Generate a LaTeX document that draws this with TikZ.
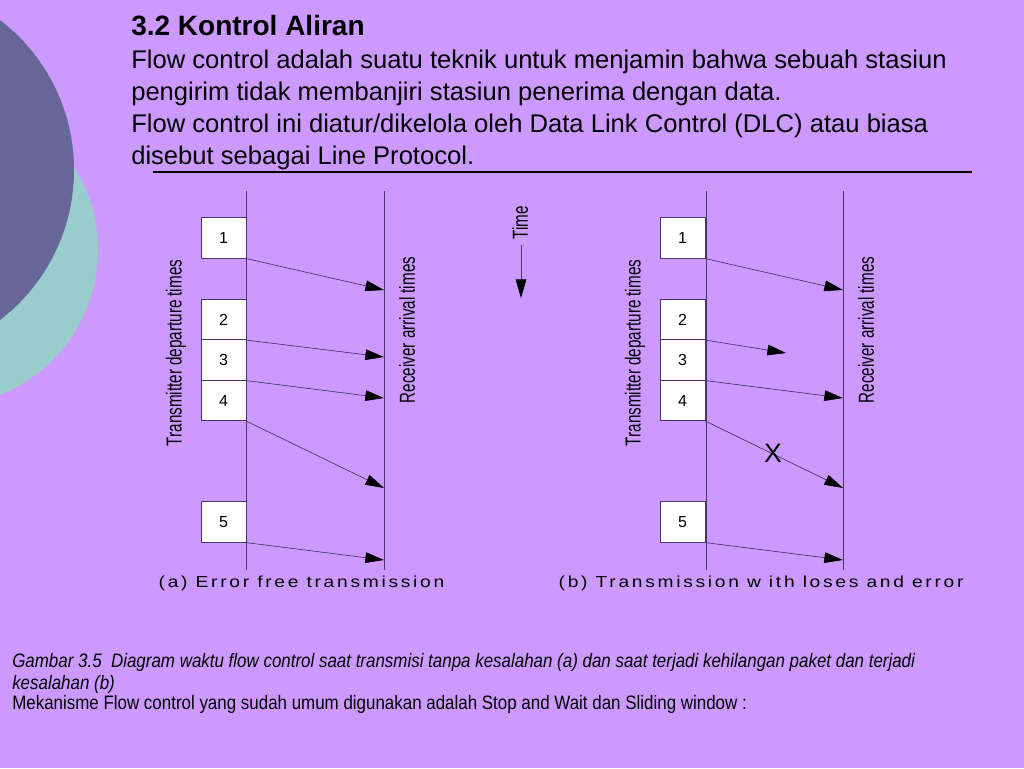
\documentclass[tikz,border=0pt]{standalone}
\usepackage{fontspec}
\setmainfont{Liberation Sans}
\newfontfamily\narrowfont[FakeStretch=0.7]{Liberation Sans}
\newfontfamily\capfont[FakeStretch=0.87]{Liberation Sans}
\newfontfamily\spacedfont[FakeStretch=1.2,LetterSpace=17]{Liberation Sans}
\usetikzlibrary{arrows.meta}
\definecolor{bgpurple}{HTML}{CC99FF}
\definecolor{darkslate}{HTML}{666699}
\definecolor{tealc}{HTML}{99CCCC}
\definecolor{linec}{HTML}{4A3366}
\tikzset{
  pkt/.style={draw=linec, line width=0.5pt, fill=white, minimum width=45*0.75pt, minimum height=40.5*0.75pt, inner sep=0pt, font=\fontsize{12}{14}\selectfont},
  axisline/.style={draw=linec, line width=0.6pt},
  msg/.style={draw=linec, line width=0.5pt, -{Triangle[length=14pt, width=8pt, color=black]}},
  vlabel/.style={rotate=90, font=\narrowfont\fontsize{16.3}{18}\selectfont},
  caption/.style={anchor=base west, font=\spacedfont\fontsize{12}{14}\selectfont},
  bodytext/.style={anchor=base west, inner sep=0pt, font=\fontsize{19.2}{23}\selectfont},
  notetext/.style={anchor=base west, inner sep=0pt, font=\capfont\fontsize{14.6}{16}\selectfont}
}
\begin{document}
\begin{tikzpicture}[x=0.75pt, y=-0.75pt]
\useasboundingbox (0,0) rectangle (1024,768);
\fill[bgpurple] (0,0) rectangle (1024,768);
\begin{scope}
\clip (0,0) rectangle (1024,768);
\fill[tealc] (-58,250) circle [radius=117pt];
\fill[darkslate] (-115,170) circle [radius=141.75pt];
\end{scope}

% title block
\node[bodytext, font=\bfseries\fontsize{21}{24}\selectfont] (title) at (131,35) {3.2 Kontrol Aliran};
\node[bodytext] (l1) at (131,68) {Flow control adalah suatu teknik untuk menjamin bahwa sebuah stasiun};
\node[bodytext] (l2) at (131,100) {pengirim tidak membanjiri stasiun penerima dengan data.};
\node[bodytext] (l3) at (131,132) {Flow control ini diatur/dikelola oleh Data Link Control (DLC) atau biasa};
\node[bodytext] (l4) at (131,164) {disebut sebagai Line Protocol.};
\coordinate (ulA) at (153,172);
\coordinate (ulB) at (972,172);
\draw[line width=1pt] (ulA) -- (ulB);

% ---------- diagram (a)
\coordinate (aTtop) at (246,191); \coordinate (aTbot) at (246,570);
\coordinate (aRtop) at (384,191); \coordinate (aRbot) at (384,570);
\draw[axisline] (aTtop) -- (aTbot);
\draw[axisline] (aRtop) -- (aRbot);
\node[pkt] (a1) at (223.5,238) {1};
\node[pkt] (a2) at (223.5,319.5) {2};
\node[pkt] (a3) at (223.5,360) {3};
\node[pkt] (a4) at (223.5,400.5) {4};
\node[pkt] (a5) at (223.5,522) {5};
\coordinate (ar1) at (384,290);
\coordinate (ar3) at (384,357);
\coordinate (ar4) at (384,398);
\coordinate (ar4b) at (384,488);
\coordinate (ar5) at (384,560);
\draw[msg] (a1.south east) -- (ar1);
\draw[msg] (a2.south east) -- (ar3);
\draw[msg] (a3.south east) -- (ar4);
\draw[msg] (a4.south east) -- (ar4b);
\draw[msg] (a5.south east) -- (ar5);
\node[vlabel] (aTl) at (176,353) {Transmitter departure times};
\node[vlabel] (aRl) at (407,330) {Receiver arrival times};
\node[caption] (acap) at (154,587) {(a) Error free transmission};

% time arrow
\node[vlabel] (time) at (520,223) {Time};
\coordinate (tEnd) at (521,298);
\draw[msg] (521,245) -- (tEnd);

% ---------- diagram (b)
\coordinate (bTtop) at (706,191); \coordinate (bTbot) at (706,570);
\coordinate (bRtop) at (843,191); \coordinate (bRbot) at (843,570);
\draw[axisline] (bTtop) -- (bTbot);
\draw[axisline] (bRtop) -- (bRbot);
\node[pkt] (b1) at (682.5,238) {1};
\node[pkt] (b2) at (682.5,319.5) {2};
\node[pkt] (b3) at (682.5,360) {3};
\node[pkt] (b4) at (682.5,400.5) {4};
\node[pkt] (b5) at (682.5,522) {5};
\coordinate (br1) at (843,290);
\coordinate (br3) at (786,353);
\coordinate (br4) at (843,398);
\coordinate (br4b) at (843,488);
\coordinate (br5) at (843,560);
\draw[msg] (b1.south east) -- (br1);
\draw[msg] (b2.south east) -- (br3);
\draw[msg] (b3.south east) -- (br4);
\draw[msg] (b4.south east) -- (br4b);
\draw[msg] (b5.south east) -- (br5);
\node[font=\fontsize{20}{22}\selectfont, inner sep=0pt] (err) at (773,453) {X};
\node[vlabel] (bTl) at (635,353) {Transmitter departure times};
\node[vlabel] (bRl) at (866,330) {Receiver arrival times};
\node[caption] (bcap) at (554,587) {(b) Transmission w ith loses and error};

% notes
\node[notetext, font=\capfont\itshape\fontsize{14.6}{16}\selectfont] (n1) at (12,667) {Gambar 3.5\ \ Diagram waktu flow control saat transmisi tanpa kesalahan (a) dan saat terjadi kehilangan paket dan terjadi};
\node[notetext, font=\capfont\itshape\fontsize{14.6}{16}\selectfont] (n2) at (12,689) {kesalahan (b)};
\node[notetext] (n3) at (12,709) {Mekanisme Flow control yang sudah umum digunakan adalah Stop and Wait dan Sliding window :};
\end{tikzpicture}
\end{document}
